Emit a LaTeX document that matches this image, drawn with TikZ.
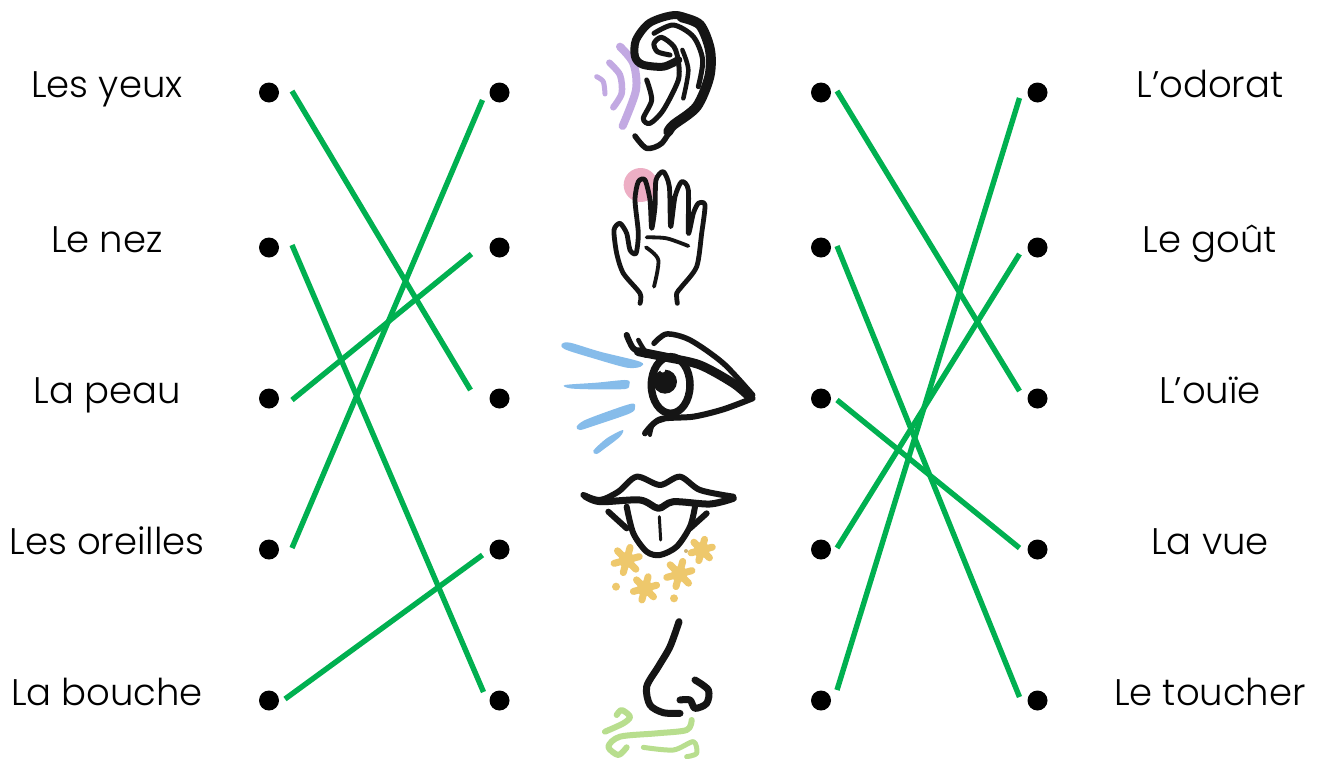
\documentclass[tikz,border=0pt]{standalone}
\usepackage{fontspec}
\setmainfont{Poppins Light}
\definecolor{linegreen}{HTML}{00B050}
\definecolor{wavepurple}{HTML}{C2A9E2}
\definecolor{touchpink}{HTML}{EDAEC4}
\definecolor{rayblue}{HTML}{86BCEA}
\definecolor{tasteyellow}{HTML}{EEC86C}
\definecolor{smellgreen}{HTML}{B8DE8E}
\definecolor{ink}{HTML}{151515}
\tikzset{
 dotnode/.style={circle,fill=black,minimum size=20pt,inner sep=0pt},
 lab/.style={font=\fontsize{37}{43}\selectfont,text=black,inner sep=0pt,anchor=base},
 link/.style={draw=linegreen,line width=5.4pt},
 ik/.style={draw=ink,line cap=round,line join=round,line width=#1},
 ik/.default=4pt,
 col/.style 2 args={draw=#1,line cap=round,line join=round,line width=#2},
 zoomA/.style={x=.33333pt,y=-.33333pt}
}
\newcommand{\blob}[2]{%
 \foreach \a in {15,75,135}{\draw[col={tasteyellow}{7pt}] ([shift={(\a:#2)}]#1) -- ([shift={(\a+180:#2)}]#1);}
 \fill[tasteyellow] (#1) circle (8pt);}
\begin{document}
\begin{tikzpicture}[x=1pt,y=-1pt]
\useasboundingbox (0,0) rectangle (1322,758);
\clip (0,0) rectangle (1322,758);
\fill[white] (0,0) rectangle (1322,758);
% labels
\node[lab] (t1) at (107,97.5) {Les yeux};
\node[lab] (t2) at (107,252.5) {Le nez};
\node[lab] (t3) at (107,403.5) {La peau};
\node[lab] (t4) at (107,554.5) {Les oreilles};
\node[lab] (t5) at (107,705.5) {La bouche};
\node[lab] (u1) at (1210,97.5) {L’odorat};
\node[lab] (u2) at (1210,252.5) {Le goût};
\node[lab] (u3) at (1210,403.5) {L’ouïe};
\node[lab] (u4) at (1210,554.5) {La vue};
\node[lab] (u5) at (1210,705.5) {Le toucher};
% dots
\foreach \n/\y in {1/92.5,2/247.5,3/398.5,4/549.5,5/700.5}{
 \node[dotnode] (a\n) at (269,\y) {};
 \node[dotnode] (b\n) at (499.5,\y) {};
 \node[dotnode] (c\n) at (821,\y) {};
 \node[dotnode] (d\n) at (1037.5,\y) {};
}
% connectors
\draw[link] ([shift={(23,-1.5)}]a1.center) -- ([shift={(-29,-8.5)}]b3.center);
\draw[link] ([shift={(23,-2.5)}]a2.center) -- ([shift={(-16,-8.5)}]b5.center);
\draw[link] ([shift={(23,1.5)}]a3.center) -- ([shift={(-28,6.5)}]b2.center);
\draw[link] ([shift={(23,-1.5)}]a4.center) -- ([shift={(-17,7.5)}]b1.center);
\draw[link] ([shift={(16,-1.5)}]a5.center) -- ([shift={(-17,5.5)}]b4.center);
\draw[link] ([shift={(16,-1.5)}]c1.center) -- ([shift={(-18,-7.5)}]d3.center);
\draw[link] ([shift={(16,-1.5)}]c2.center) -- ([shift={(-18,-3.5)}]d5.center);
\draw[link] ([shift={(16,1.5)}]c3.center) -- ([shift={(-18,-1.5)}]d4.center);
\draw[link] ([shift={(16,-1.5)}]c4.center) -- ([shift={(-18,6.5)}]d2.center);
\draw[link] ([shift={(16,-10.5)}]c5.center) -- ([shift={(-18,5.5)}]d1.center);
% ear and hand
\begin{scope}[shift={(550,0)},zoomA]
 \draw[col={wavepurple}{5pt}] plot[smooth] coordinates {(140,230)(160,245)(165,282)};
 \draw[col={wavepurple}{6.5pt}] plot[smooth] coordinates {(178,188)(210,225)(215,280)(190,322)};
 \draw[col={wavepurple}{8pt}] plot[smooth] coordinates {(210,140)(250,190)(258,270)(218,378)};
 \draw[ik=5.5pt] plot[smooth] coordinates {(255,408)(290,445)(335,430)(370,375)};
 \draw[ik=10pt] plot[smooth] coordinates {(355,395)(370,375)(440,320)(478,230)(480,150)(450,75)(395,52)};
 \draw[ik=8pt] plot[smooth] coordinates {(450,75)(380,45)(300,68)(258,120)(255,170)(278,194)(340,200)(385,180)};
 \draw[ik=5pt] plot[smooth] coordinates {(385,180)(372,140)(335,112)(312,130)(322,155)(360,165)};
 \draw[ik=5pt] plot[smooth] coordinates {(312,100)(370,75)(430,110)(458,180)(445,260)};
 \draw[ik=4.5pt] plot[smooth] coordinates {(397,150)(415,210)(400,295)};
 \draw[ik=5pt] plot[smooth] coordinates {(385,185)(385,240)(340,330)(300,370)(280,355)(305,300)(290,240)};
 \fill[touchpink] (272,555) circle[radius=17pt];
 \draw[ik=4.8pt] plot[smooth,tension=.45] coordinates {(270,910)(270,880)(220,820)(200,760)(192,690)(210,670)(230,700)(240,750)(258,760)(265,700)(255,600)(265,545)(285,540)(300,600)(305,685)(315,620)(318,540)(340,515)(358,560)(362,680)(375,590)(395,545)(415,570)(415,700)(430,640)(445,610)(465,615)(455,700)(440,800)(395,860)(380,880)(382,910)};
 \draw[ik=3.8pt] plot[smooth] coordinates {(290,712)(350,715)(415,738)};
 \draw[ik=3.8pt] plot[smooth] coordinates {(288,742)(325,780)(312,860)};
\end{scope}
% eye and mouth
\begin{scope}[shift={(550,320)},zoomA]
 \fill[rayblue] plot[smooth cycle] coordinates {(35,72)(60,68)(150,95)(270,125)(272,140)(230,143)(130,115)(45,88)};
 \fill[rayblue] plot[smooth cycle] coordinates {(45,195)(140,188)(230,180)(238,195)(225,207)(130,208)(60,205)};
 \fill[rayblue] plot[smooth cycle] coordinates {(80,320)(110,298)(240,252)(255,262)(240,280)(130,318)(90,330)};
 \fill[rayblue] plot[smooth cycle] coordinates {(130,392)(170,355)(218,330)(210,350)(165,385)(140,402)};
 \draw[ik=9pt] plot[smooth] coordinates {(265,95)(350,112)(450,135)(550,190)(600,232)};
 \draw[ik=5.5pt] plot[smooth] coordinates {(312,70)(350,42)(420,60)(520,130)(608,225)};
 \draw[ik=6pt] plot[smooth] coordinates {(608,235)(520,268)(430,290)(330,298)(285,340)};
 \draw[ik=6pt] plot[smooth] coordinates {(230,45)(250,85)(290,105)};
 \draw[ik=4.5pt] plot[smooth] coordinates {(265,60)(285,92)(310,105)};
 \draw[ik=4pt] plot[smooth] coordinates {(340,300)(310,312)(300,345)};
 \draw[ik=7.5pt] (362,195) ellipse[x radius=58,y radius=85];
 \fill[ink] (345,185) circle[radius=12pt];
 \fill[white] (338,150) circle[radius=2.5pt];
 \draw[ik=6pt] plot[smooth] coordinates {(100,525)(150,540)(205,515)(260,470)(330,495)(390,470)(450,510)(550,530)};
 \draw[ik=7pt] plot[smooth] coordinates {(105,528)(150,545)(270,540)(325,565)(370,545)(480,552)(550,535)};
 \draw[ik=6pt] plot[smooth] coordinates {(230,560)(250,640)(290,695)(330,705)(380,680)(420,620)(435,560)};
 \draw[ik=3pt] (328,590) -- (332,660);
 \draw[ik=6pt] (175,575) -- (230,625);
 \draw[ik=6pt] (470,580) -- (420,625);
 \coordinate (s1) at (230,720);
 \coordinate (s2) at (285,805);
 \coordinate (s3) at (388,762);
 \coordinate (s4) at (455,690);
 \blob{s1}{13pt}
 \blob{s2}{12pt}
 \blob{s3}{13pt}
 \blob{s4}{11pt}
 \fill[tasteyellow] (198,800) circle[radius=4pt];
 \fill[tasteyellow] (372,835) circle[radius=4pt];
 \fill[tasteyellow!70!gray] (408,693) circle[radius=2pt];
\end{scope}
% nose
\begin{scope}[shift={(580,610)},zoomA]
 \draw[col={smellgreen}{6pt}] plot[smooth] coordinates {(75,365)(130,340)(150,320)(125,300)(110,315)};
 \draw[col={smellgreen}{6pt}] plot[smooth] coordinates {(335,330)(320,360)(230,370)(120,380)(85,410)(115,435)(140,412)};
 \draw[col={smellgreen}{5pt}] plot[smooth] coordinates {(190,412)(280,420)(340,395)(350,430)(320,440)};
 \draw[ik=7pt] plot[smooth] coordinates {(297,35)(270,110)(235,170)(200,230)(210,285)(250,308)(300,310)};
 \draw[ik=7pt] plot[smooth] coordinates {(345,210)(385,240)(380,280)(345,295)(330,270)(300,270)};
\end{scope}
\end{tikzpicture}
\end{document}
